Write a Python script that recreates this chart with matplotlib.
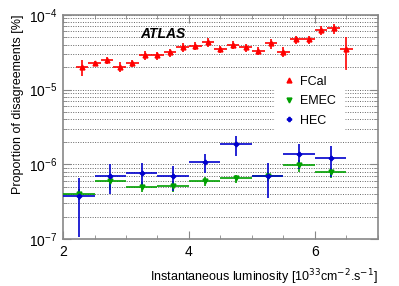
import numpy as np
import matplotlib
matplotlib.use("Agg")
import matplotlib.pyplot as plt
from matplotlib.lines import Line2D
from matplotlib.ticker import LogLocator, MultipleLocator, NullFormatter

plt.rcParams['font.family'] = ['Liberation Sans', 'DejaVu Sans']

# --- DATA ---
fcal_x = [2.3, 2.5, 2.7, 2.9, 3.1, 3.3, 3.5, 3.7, 3.9, 4.1, 4.3,
          4.5, 4.7, 4.9, 5.1, 5.3, 5.5, 5.7, 5.9, 6.1, 6.3, 6.5]
fcal_y = [2.02e-5, 2.24e-5, 2.48e-5, 2.02e-5, 2.24e-5, 2.89e-5, 2.87e-5,
          3.14e-5, 3.73e-5, 3.82e-5, 4.35e-5, 3.48e-5, 3.97e-5, 3.67e-5,
          3.27e-5, 4.15e-5, 3.20e-5, 4.69e-5, 4.69e-5, 6.24e-5, 6.58e-5, 3.45e-5]
fcal_err = [0.5e-5, 0.2e-5, 0.25e-5, 0.3e-5, 0.25e-5, 0.4e-5, 0.35e-5,
            0.39e-5, 0.5e-5, 0.45e-5, 0.6e-5, 0.4e-5, 0.5e-5, 0.45e-5,
            0.4e-5, 0.65e-5, 0.5e-5, 0.6e-5, 0.6e-5, 0.9e-5, 1.0e-5, 1.6e-5]

bin_x = [2.25, 2.75, 3.25, 3.75, 4.25, 4.75, 5.25, 5.75, 6.25]
emec_y = [4.0e-7, 5.98e-7, 5.02e-7, 5.13e-7, 5.98e-7, 6.5e-7, 7.0e-7, 9.8e-7, 7.8e-7]
emec_err = [0.7e-7, 1.4e-7, 0.8e-7, 0.9e-7, 0.8e-7, 0.8e-7, 1.0e-7, 1.8e-7, 1.2e-7]
hec_y = [3.77e-7, 7.04e-7, 7.58e-7, 7.0e-7, 1.06e-6, 1.85e-6, 7.04e-7, 1.36e-6, 1.22e-6]
hec_err = [2.7e-7, 3.0e-7, 2.7e-7, 2.6e-7, 3.0e-7, 5.5e-7, 3.5e-7, 5.0e-7, 5.5e-7]

RED, GREEN, BLUE = '#ff0000', '#00a000', '#0000cc'

fig = plt.figure(figsize=(3.99, 2.86), dpi=100)
ax = fig.add_axes([0.158, 0.164, 0.789, 0.784])

ax.set_yscale('log')
ax.set_xlim(2, 7)
ax.set_ylim(1e-7, 1e-4)

# dotted horizontal grid at every decade tick
ax.yaxis.set_major_locator(LogLocator(base=10, numticks=10))
ax.yaxis.set_minor_locator(LogLocator(base=10, subs=np.arange(2, 10), numticks=20))
ax.yaxis.set_minor_formatter(NullFormatter())
ax.grid(True, which='both', axis='y', linestyle=(0, (1, 1.5)), color='#666666', linewidth=0.7)
ax.set_axisbelow(True)

ax.xaxis.set_major_locator(MultipleLocator(2))
ax.xaxis.set_minor_locator(MultipleLocator(0.5))

ax.errorbar(fcal_x, fcal_y, yerr=fcal_err, xerr=0.1, fmt='^', color=RED,
            ms=3.5, lw=1.2, capsize=0, zorder=4)
ax.errorbar(bin_x, emec_y, yerr=emec_err, xerr=0.25, fmt='v', color=GREEN,
            ms=3.5, lw=1.2, capsize=0, zorder=3)
ax.errorbar(bin_x, hec_y, yerr=hec_err, xerr=0.25, fmt='P', color=BLUE,
            ms=3, lw=1.2, capsize=0, zorder=3)

for s in ax.spines.values():
    s.set_color('#888888')
    s.set_linewidth(1.2)
ax.tick_params(which='both', direction='in', top=True, right=True,
               labelsize=10, colors='#888888', labelcolor='black', pad=4)
ax.tick_params(which='major', length=6)
ax.tick_params(which='minor', length=3)

ax.set_xlabel('Instantaneous luminosity [10$^{33}$cm$^{-2}$.s$^{-1}$]',
              fontsize=9, loc='right', labelpad=6)
ax.set_ylabel('Proportion of disagreements [%]', fontsize=9, loc='top', labelpad=4)

ax.text(0.245, 0.915, 'ATLAS', transform=ax.transAxes, fontsize=10,
        fontweight='bold', fontstyle='italic', va='center')

handles = [Line2D([], [], marker='^', color=RED, ls='none', ms=3.5),
           Line2D([], [], marker='v', color=GREEN, ls='none', ms=3.5),
           Line2D([], [], marker='P', color=BLUE, ls='none', ms=3)]
leg = ax.legend(handles, ['FCal', 'EMEC', 'HEC'], loc='upper left',
                bbox_to_anchor=(0.655, 0.79), frameon=True, fontsize=9,
                handlelength=1.0, handletextpad=0.4, labelspacing=0.6,
                borderpad=0.6, fancybox=False)
leg.get_frame().set_edgecolor('white')
leg.get_frame().set_facecolor('white')
leg.get_frame().set_alpha(1.0)

fig.savefig('out.png', dpi=100)
